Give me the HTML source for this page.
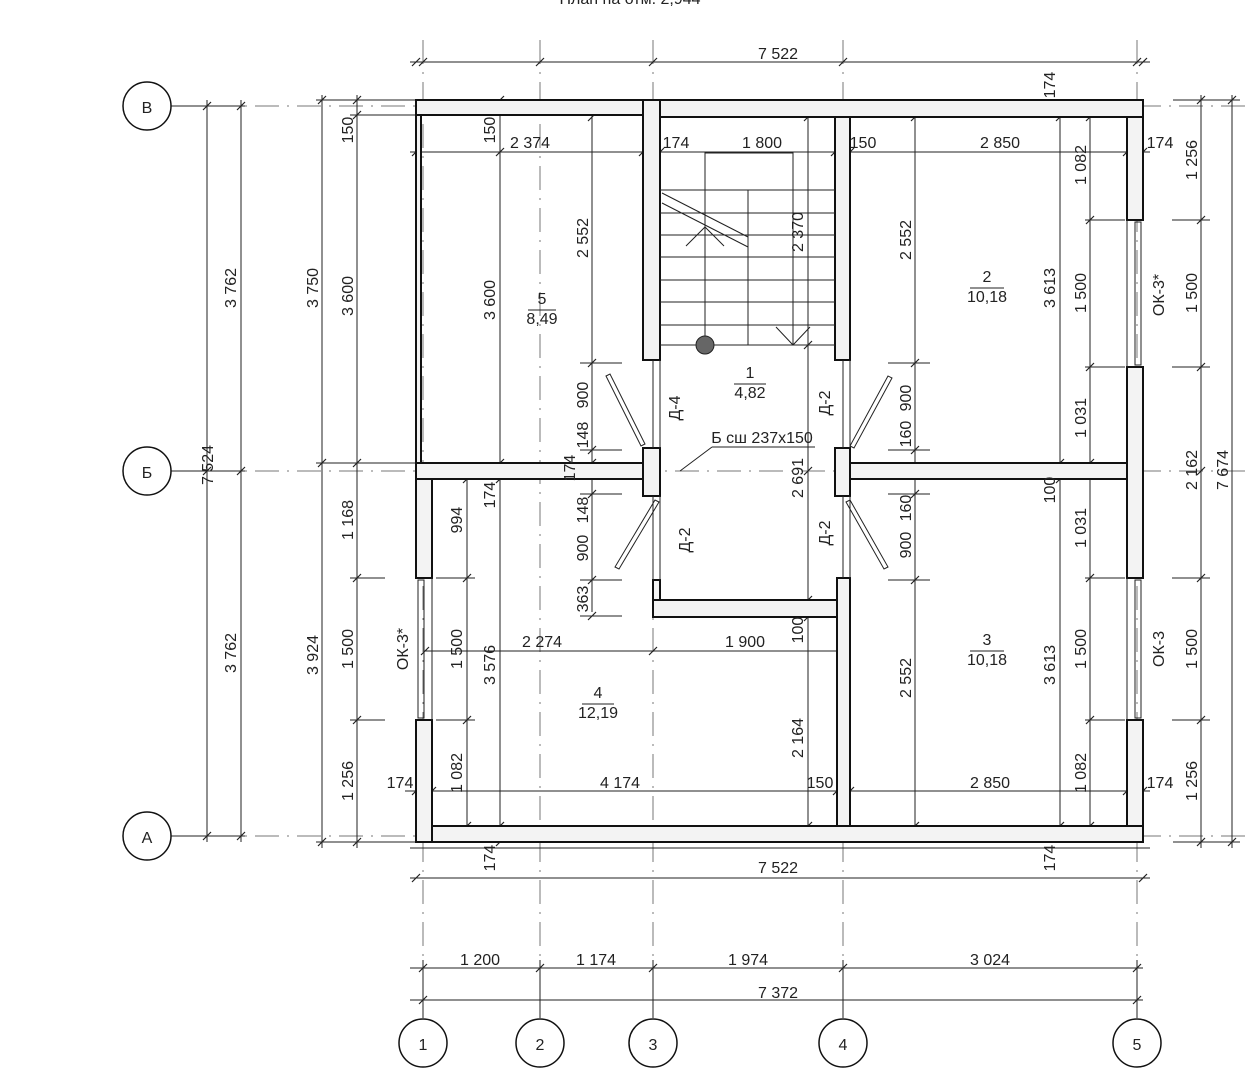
<!DOCTYPE html>
<html><head><meta charset="utf-8"><style>
html,body{margin:0;padding:0;background:#fff;width:1259px;height:1080px;overflow:hidden}
svg text{font-family:"Liberation Sans",sans-serif;font-size:16px;fill:#222}
</style></head><body>
<svg width="1259" height="1080" viewBox="0 0 1259 1080" xmlns="http://www.w3.org/2000/svg">
<g stroke="#777" stroke-width="1" stroke-dasharray="24,8,2,8" fill="none">
<line x1="423" y1="40" x2="423" y2="1018"/><line x1="540" y1="40" x2="540" y2="1018"/>
<line x1="653" y1="40" x2="653" y2="1018"/><line x1="843" y1="40" x2="843" y2="1018"/>
<line x1="1137" y1="40" x2="1137" y2="1018"/>
<line x1="171" y1="106" x2="1250" y2="106"/><line x1="171" y1="471" x2="1250" y2="471"/><line x1="171" y1="836" x2="1250" y2="836"/>
</g>
<g stroke="#222" stroke-width="1" fill="none">
<!-- top dims -->
<line x1="410" y1="62" x2="1150" y2="62"/><line x1="410" y1="152" x2="1150" y2="152"/>
<line x1="410" y1="878" x2="1150" y2="878"/><line x1="410" y1="848" x2="1150" y2="848"/>
<line x1="410" y1="968" x2="1143" y2="968"/><line x1="410" y1="1000" x2="1143" y2="1000"/>
<line x1="423" y1="960" x2="423" y2="1018"/><line x1="540" y1="960" x2="540" y2="1018"/><line x1="653" y1="960" x2="653" y2="1018"/><line x1="843" y1="960" x2="843" y2="1018"/><line x1="1137" y1="960" x2="1137" y2="1018"/>
<!-- left dims -->
<line x1="207" y1="100" x2="207" y2="842"/><line x1="241" y1="100" x2="241" y2="842"/>
<line x1="322" y1="95" x2="322" y2="848"/><line x1="357" y1="95" x2="357" y2="848"/>
<line x1="171" y1="106" x2="245" y2="106"/><line x1="171" y1="471" x2="245" y2="471"/><line x1="171" y1="836" x2="245" y2="836"/>
<line x1="316" y1="100" x2="415" y2="100"/><line x1="316" y1="463" x2="415" y2="463"/><line x1="316" y1="842" x2="415" y2="842"/>
<line x1="350" y1="115" x2="415" y2="115"/><line x1="350" y1="578" x2="385" y2="578"/><line x1="350" y1="720" x2="385" y2="720"/>
<!-- right dims -->
<line x1="1201" y1="95" x2="1201" y2="848"/><line x1="1232" y1="95" x2="1232" y2="848"/>
<line x1="1173" y1="100" x2="1240" y2="100"/><line x1="1173" y1="842" x2="1240" y2="842"/>
<line x1="1172" y1="220" x2="1210" y2="220"/><line x1="1172" y1="367" x2="1210" y2="367"/><line x1="1172" y1="578" x2="1210" y2="578"/><line x1="1172" y1="720" x2="1210" y2="720"/>
<!-- interior dims -->
<line x1="1090" y1="112" x2="1090" y2="832"/><line x1="1060" y1="112" x2="1060" y2="832"/>
<line x1="1085" y1="220" x2="1125" y2="220"/><line x1="1085" y1="367" x2="1125" y2="367"/><line x1="1085" y1="578" x2="1125" y2="578"/><line x1="1085" y1="720" x2="1125" y2="720"/>
<line x1="915" y1="112" x2="915" y2="832"/><line x1="888" y1="363" x2="930" y2="363"/><line x1="888" y1="450" x2="930" y2="450"/><line x1="888" y1="494" x2="930" y2="494"/><line x1="888" y1="580" x2="930" y2="580"/>
<line x1="808" y1="117" x2="808" y2="826"/><line x1="500" y1="100" x2="500" y2="842"/>
<line x1="592" y1="112" x2="592" y2="612"/><line x1="580" y1="363" x2="622" y2="363"/><line x1="580" y1="450" x2="622" y2="450"/><line x1="580" y1="494" x2="622" y2="494"/><line x1="580" y1="580" x2="622" y2="580"/><line x1="580" y1="616" x2="622" y2="616"/>
<line x1="467" y1="479" x2="467" y2="826"/><line x1="436" y1="578" x2="475" y2="578"/><line x1="436" y1="720" x2="475" y2="720"/>
<line x1="425" y1="651" x2="843" y2="651"/><line x1="405" y1="791" x2="1150" y2="791"/>
<line x1="680" y1="471" x2="712" y2="447"/><line x1="712" y1="447" x2="815" y2="447"/>
</g>
<!-- ticks -->
<g stroke="#222" stroke-width="1.2">
<path d="M412 66l8-8M419 66l8-8M536 66l8-8M649 66l8-8M839 66l8-8M1133 66l8-8M1139 66l8-8M412 156l8-8M496 156l8-8M639 156l8-8M656 156l8-8M831 156l8-8M846 156l8-8M1123 156l8-8M1139 156l8-8M412 882l8-8M1139 882l8-8M419 972l8-8M536 972l8-8M649 972l8-8M839 972l8-8M1133 972l8-8M419 1004l8-8M1133 1004l8-8M412 795l8-8M428 795l8-8M649 655l8-8M833 795l8-8M846 795l8-8M1123 795l8-8M1139 795l8-8M421 655l8-8M839 655l8-8"/>
<path d="M203 110l8-8M203 475l8-8M203 840l8-8M237 110l8-8M237 475l8-8M237 840l8-8M318 104l8-8M318 467l8-8M318 846l8-8M353 104l8-8M353 119l8-8M353 467l8-8M353 582l8-8M353 724l8-8M353 846l8-8M1197 104l8-8M1197 224l8-8M1197 371l8-8M1197 475l8-8M1197 582l8-8M1197 724l8-8M1197 846l8-8M1228 104l8-8M1228 846l8-8M1086 121l8-8M1086 224l8-8M1086 371l8-8M1086 467l8-8M1086 582l8-8M1086 724l8-8M1086 830l8-8M1056 121l8-8M1056 467l8-8M1056 483l8-8M1056 830l8-8M911 121l8-8M911 367l8-8M911 454l8-8M911 498l8-8M911 584l8-8M911 830l8-8M804 121l8-8M804 349l8-8M804 475l8-8M804 604l8-8M804 621l8-8M804 830l8-8M496 104l8-8M496 467l8-8M496 483l8-8M496 830l8-8M496 846l8-8M588 121l8-8M588 367l8-8M588 454l8-8M588 467l8-8M588 498l8-8M588 584l8-8M588 620l8-8M463 483l8-8M463 582l8-8M463 724l8-8M463 830l8-8"/>
</g>
<!-- walls -->
<g stroke="#111" stroke-width="2" fill="#f3f3f3">
<rect x="416" y="100" width="227" height="15"/>
<rect x="643" y="100" width="500" height="17"/>
<rect x="643" y="100" width="17" height="260"/>
<rect x="835" y="117" width="15" height="243"/>
<rect x="1127" y="117" width="16" height="103"/>
<rect x="1127" y="367" width="16" height="211"/>
<rect x="1127" y="720" width="16" height="122"/>
<rect x="416" y="826" width="727" height="16"/>
<rect x="416" y="463" width="16" height="115"/>
<rect x="416" y="720" width="16" height="122"/>
<rect x="416" y="463" width="227" height="16"/>
<rect x="850" y="463" width="277" height="16"/>
<rect x="643" y="448" width="17" height="48"/>
<rect x="835" y="448" width="15" height="48"/>
<rect x="653" y="580" width="7" height="37"/>
<rect x="837" y="578" width="13" height="248"/>
<rect x="653" y="600" width="184" height="17"/>
<rect x="416" y="115" width="5" height="348"/>
</g>
<g stroke="#222" stroke-width="1" fill="none">
<!-- windows / door frames -->
<rect x="1135" y="222" width="6" height="143"/><line x1="1127" y1="220" x2="1127" y2="367"/>
<rect x="1135" y="580" width="6" height="138"/><line x1="1127" y1="578" x2="1127" y2="720"/>
<rect x="418" y="580" width="6" height="138"/><line x1="432" y1="578" x2="432" y2="720"/>
<line x1="653" y1="360" x2="653" y2="448"/><line x1="660" y1="360" x2="660" y2="448"/>
<line x1="843" y1="360" x2="843" y2="448"/><line x1="850" y1="360" x2="850" y2="448"/>
<line x1="653" y1="496" x2="653" y2="580"/><line x1="660" y1="496" x2="660" y2="580"/>
<line x1="843" y1="496" x2="843" y2="578"/><line x1="850" y1="496" x2="850" y2="578"/>
<!-- door leaves -->
<path d="M606 376l35 70l4-2l-35-70z"/><path d="M888 376l-38 70l4 2l38-70z"/>
<path d="M655 500l-40 67l4 2l40-67z"/><path d="M850 500l38 67l-4 2l-38-67z"/>
<!-- stair -->
<line x1="660" y1="345" x2="835" y2="345"/>
<path d="M705 345V153H793V345"/><line x1="748" y1="190" x2="748" y2="345"/>
<path d="M660 190H835M660 213H835M660 235H835M660 257H835M660 280H835M660 302H835M660 325H835"/>
<path d="M662 193l86 44M662 203l86 44"/>
<path d="M686 246l19-19l19 19M776 327l17 18l17-18"/>
</g>
<circle cx="705" cy="345" r="9" fill="#666" stroke="#222"/>
<!-- axis bubbles -->
<g stroke="#111" stroke-width="1.5" fill="#fff">
<circle cx="147" cy="106" r="24"/><circle cx="147" cy="471" r="24"/><circle cx="147" cy="836" r="24"/>
<circle cx="423" cy="1043" r="24"/><circle cx="540" cy="1043" r="24"/><circle cx="653" cy="1043" r="24"/><circle cx="843" cy="1043" r="24"/><circle cx="1137" cy="1043" r="24"/>
</g>
<g text-anchor="middle" style="font-size:20px">
<text x="147" y="113">В</text><text x="147" y="478">Б</text><text x="147" y="843">А</text>
<text x="423" y="1050">1</text><text x="540" y="1050">2</text><text x="653" y="1050">3</text><text x="843" y="1050">4</text><text x="1137" y="1050">5</text>
</g>
<g text-anchor="middle">
<text x="630" y="4">План на отм. 2,944</text>
<text x="778" y="59">7 522</text><text x="778" y="873">7 522</text>
<text x="480" y="965">1 200</text><text x="596" y="965">1 174</text><text x="748" y="965">1 974</text><text x="990" y="965">3 024</text>
<text x="778" y="998">7 372</text>
<text x="530" y="148">2 374</text><text x="676" y="148">174</text><text x="762" y="148">1 800</text><text x="863" y="148">150</text><text x="1000" y="148">2 850</text><text x="1160" y="148">174</text>
<text x="542" y="647">2 274</text><text x="745" y="647">1 900</text>
<text x="400" y="788">174</text><text x="620" y="788">4 174</text><text x="820" y="788">150</text><text x="990" y="788">2 850</text><text x="1160" y="788">174</text>
<text x="542" y="304">5</text><text x="542" y="324">8,49</text>
<text x="750" y="378">1</text><text x="750" y="398">4,82</text>
<text x="987" y="282">2</text><text x="987" y="302">10,18</text>
<text x="987" y="645">3</text><text x="987" y="665">10,18</text>
<text x="598" y="698">4</text><text x="598" y="718">12,19</text>
<text x="762" y="443">Б сш 237x150</text>
</g>
<g stroke="#222" stroke-width="1"><path d="M528 310h28M734 384h32M970 288h34M970 651h34M582 704h32"/></g>
<g text-anchor="middle">
<text transform="rotate(-90 213 465)" x="213" y="465">7 524</text>
<text transform="rotate(-90 236 288)" x="236" y="288">3 762</text>
<text transform="rotate(-90 236 653)" x="236" y="653">3 762</text>
<text transform="rotate(-90 318 288)" x="318" y="288">3 750</text>
<text transform="rotate(-90 318 655)" x="318" y="655">3 924</text>
<text transform="rotate(-90 353 130)" x="353" y="130">150</text>
<text transform="rotate(-90 353 296)" x="353" y="296">3 600</text>
<text transform="rotate(-90 353 520)" x="353" y="520">1 168</text>
<text transform="rotate(-90 353 649)" x="353" y="649">1 500</text>
<text transform="rotate(-90 353 781)" x="353" y="781">1 256</text>
<text transform="rotate(-90 408 649)" x="408" y="649">ОК-3*</text>
<text transform="rotate(-90 462 520)" x="462" y="520">994</text>
<text transform="rotate(-90 462 649)" x="462" y="649">1 500</text>
<text transform="rotate(-90 462 773)" x="462" y="773">1 082</text>
<text transform="rotate(-90 495 130)" x="495" y="130">150</text>
<text transform="rotate(-90 495 300)" x="495" y="300">3 600</text>
<text transform="rotate(-90 495 495)" x="495" y="495">174</text>
<text transform="rotate(-90 495 665)" x="495" y="665">3 576</text>
<text transform="rotate(-90 495 858)" x="495" y="858">174</text>
<text transform="rotate(-90 575 468)" x="575" y="468">174</text>
<text transform="rotate(-90 588 238)" x="588" y="238">2 552</text>
<text transform="rotate(-90 588 395)" x="588" y="395">900</text>
<text transform="rotate(-90 588 435)" x="588" y="435">148</text>
<text transform="rotate(-90 588 510)" x="588" y="510">148</text>
<text transform="rotate(-90 588 548)" x="588" y="548">900</text>
<text transform="rotate(-90 588 599)" x="588" y="599">363</text>
<text transform="rotate(-90 680 408)" x="680" y="408">Д-4</text>
<text transform="rotate(-90 690 540)" x="690" y="540">Д-2</text>
<text transform="rotate(-90 830 403)" x="830" y="403">Д-2</text>
<text transform="rotate(-90 830 533)" x="830" y="533">Д-2</text>
<text transform="rotate(-90 803 232)" x="803" y="232">2 370</text>
<text transform="rotate(-90 803 478)" x="803" y="478">2 691</text>
<text transform="rotate(-90 803 630)" x="803" y="630">100</text>
<text transform="rotate(-90 803 738)" x="803" y="738">2 164</text>
<text transform="rotate(-90 911 240)" x="911" y="240">2 552</text>
<text transform="rotate(-90 911 398)" x="911" y="398">900</text>
<text transform="rotate(-90 911 434)" x="911" y="434">160</text>
<text transform="rotate(-90 911 508)" x="911" y="508">160</text>
<text transform="rotate(-90 911 545)" x="911" y="545">900</text>
<text transform="rotate(-90 911 678)" x="911" y="678">2 552</text>
<text transform="rotate(-90 1055 288)" x="1055" y="288">3 613</text>
<text transform="rotate(-90 1055 490)" x="1055" y="490">100</text>
<text transform="rotate(-90 1055 665)" x="1055" y="665">3 613</text>
<text transform="rotate(-90 1055 858)" x="1055" y="858">174</text>
<text transform="rotate(-90 1055 85)" x="1055" y="85">174</text>
<text transform="rotate(-90 1086 165)" x="1086" y="165">1 082</text>
<text transform="rotate(-90 1086 293)" x="1086" y="293">1 500</text>
<text transform="rotate(-90 1086 418)" x="1086" y="418">1 031</text>
<text transform="rotate(-90 1086 528)" x="1086" y="528">1 031</text>
<text transform="rotate(-90 1086 649)" x="1086" y="649">1 500</text>
<text transform="rotate(-90 1086 773)" x="1086" y="773">1 082</text>
<text transform="rotate(-90 1164 295)" x="1164" y="295">ОК-3*</text>
<text transform="rotate(-90 1164 649)" x="1164" y="649">ОК-3</text>
<text transform="rotate(-90 1197 160)" x="1197" y="160">1 256</text>
<text transform="rotate(-90 1197 293)" x="1197" y="293">1 500</text>
<text transform="rotate(-90 1197 470)" x="1197" y="470">2 162</text>
<text transform="rotate(-90 1197 649)" x="1197" y="649">1 500</text>
<text transform="rotate(-90 1197 781)" x="1197" y="781">1 256</text>
<text transform="rotate(-90 1228 470)" x="1228" y="470">7 674</text>
</g>
</svg>
</body></html>
